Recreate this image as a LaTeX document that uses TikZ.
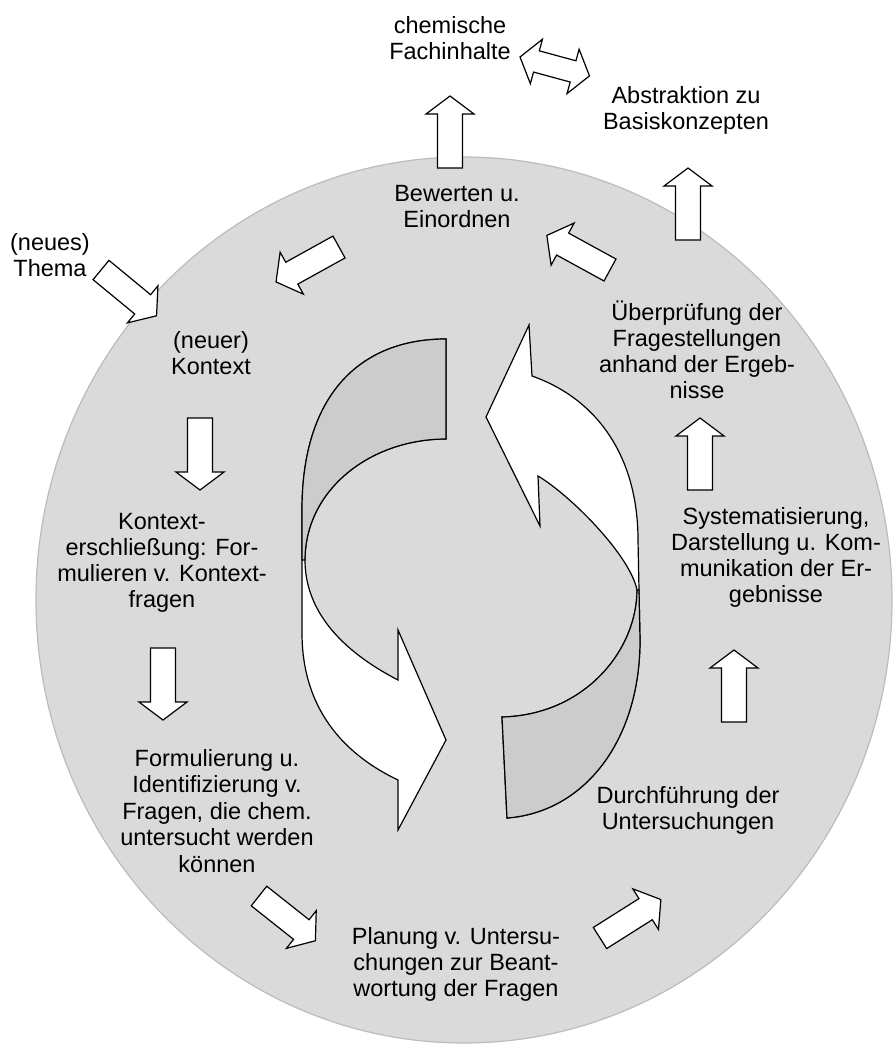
\documentclass[tikz,border=0pt]{standalone}
\usepackage{fontspec}
\setmainfont{Liberation Sans}
\definecolor{bgc}{RGB}{218,218,218}
\definecolor{bandc}{RGB}{204,204,204}
\definecolor{rimc}{RGB}{188,188,188}
\tikzset{
  lbl/.style={align=center, inner sep=0pt, text=black},
  barrow/.style={draw=black, fill=white, line width=1.2pt, line join=miter},
  ribbon/.style={draw=black, line width=1.2pt, line join=miter},
  blockarrow/.pic={\path[barrow] (0,-12.5) -- (54,-12.5) -- (54,-24) -- (72,0) -- (54,24) -- (54,12.5) -- (0,12.5) -- cycle;},
  dblarrow/.pic={\path[barrow] (0,0) -- (17,-23) -- (17,-11) -- (55,-11) -- (55,-23) -- (72,0) -- (55,23) -- (55,11) -- (17,11) -- (17,23) -- cycle;}
}
\begin{document}
\begin{tikzpicture}[x=1pt,y=-1pt,font=\fontsize{23.5}{26}\selectfont]
\useasboundingbox (0,0) rectangle (893,1044);
% background disc
\path[fill=bgc, draw=rimc, line width=1.2pt] (464,600) ellipse [x radius=428, y radius=443];

% central cycle: left arrow
\path[ribbon, fill=white] (446,339) .. controls (360,339) and (302,395) .. (302,510) -- (302,633) .. controls (302,700) and (335,750) .. (398,780) -- (398,830) -- (446,740) -- (398,630) -- (398,680) .. controls (340,650) and (305,610) .. (305,560) .. controls (305,490) and (370,439) .. (446,439) -- cycle;
\path[ribbon, fill=bandc] (446,339) .. controls (360,339) and (302,395) .. (302,510) -- (302,560) -- (305,560) .. controls (305,490) and (370,439) .. (446,439) -- cycle;
% central cycle: right arrow
\path[ribbon, fill=white] (532,376) .. controls (600,400) and (638,460) .. (638,540) -- (640,640) .. controls (640,740) and (585,812) .. (507,818) -- (502,717) .. controls (585,715) and (637,650) .. (637,590) .. controls (630,555) and (570,495) .. (538,476) -- (540,526) -- (486,417) -- (529,325) -- cycle;
\path[ribbon, fill=bandc] (639,590) -- (640,640) .. controls (640,740) and (585,812) .. (507,818) -- (502,717) .. controls (585,715) and (637,650) .. (637,590) -- cycle;

% block arrows
\pic (a1) [rotate=90] at (450,168) {blockarrow};
\pic (a2) [rotate=-15.2] at (520,57) {dblarrow};
\pic (a3) [rotate=90] at (688,240) {blockarrow};
\pic (a4) [rotate=151.3] at (610,270) {blockarrow};
\pic (a5) [rotate=209] at (339,247) {blockarrow};
\pic (a6) [rotate=-39.5] at (101,270) {blockarrow};
\pic (a7) [rotate=-90] at (200,418) {blockarrow};
\pic (a8) [rotate=-90] at (163,648) {blockarrow};
\pic (a9) [rotate=-38.4] at (259,896) {blockarrow};
\pic (a10) [rotate=32.3] at (600,938) {blockarrow};
\pic (a11) [rotate=90] at (734,722) {blockarrow};
\pic (a12) [rotate=90] at (700,490) {blockarrow};

% labels
\node[lbl] (chem) at (450,38) {chemische\\Fachinhalte};
\node[lbl] (abs) at (686,110) {Abstraktion zu\\Basiskonzepten};
\node[lbl] (bew) at (457,207) {Bewerten u.\\Einordnen};
\node[lbl] (thema) at (50,255) {(neues)\\Thema};
\node[lbl] (kon) at (211,353) {(neuer)\\Kontext};
\node[lbl] (ers) at (162,563) {Kontext-\\erschließung: For-\\mulieren v. Kontext-\\fragen};
\node[lbl, font=\fontsize{23.5}{26.5}\selectfont] (form) at (217,811) {Formulierung u.\\Identifizierung v.\\Fragen, die chem.\\untersucht werden\\können};
\node[lbl] (plan) at (456,964) {Planung v. Untersu-\\chungen zur Beant-\\wortung der Fragen};
\node[lbl] (durch) at (688,810) {Durchführung der\\Untersuchungen};
\node[lbl] (syst) at (776,557) {Systematisierung,\\Darstellung u. Kom-\\munikation der Er-\\gebnisse};
\node[lbl] (ueb) at (697,350) {Überprüfung der\\Fragestellungen\\anhand der Ergeb-\\nisse};
\end{tikzpicture}
\end{document}
